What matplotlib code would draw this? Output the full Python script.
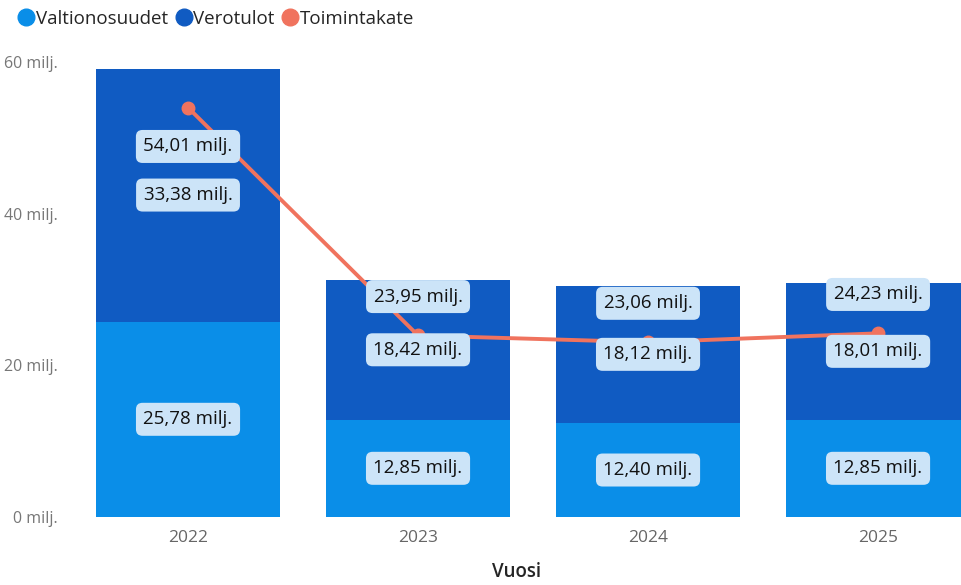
import matplotlib.pyplot as plt
from matplotlib.lines import Line2D
import numpy as np

plt.rcParams['font.family'] = ['Open Sans', 'DejaVu Sans']

vuodet = ['2022', '2023', '2024', '2025']
valtionosuudet = [25.78, 12.85, 12.40, 12.85]
verotulot = [33.38, 18.42, 18.12, 18.01]
toimintakate = [54.01, 23.95, 23.06, 24.23]

c_valt = '#0A8EE8'
c_vero = '#105BC2'
c_toim = '#F0735E'


def fmt(v):
    return f'{v:.2f}'.replace('.', ',') + ' milj.'


fig = plt.figure(figsize=(9.62, 5.85), dpi=100)
ax = fig.add_axes([0.0759, 0.1162, 0.9241, 0.7905])

x = np.arange(len(vuodet))
ax.bar(x, valtionosuudet, width=0.8, color=c_valt)
ax.bar(x, verotulot, width=0.8, bottom=valtionosuudet, color=c_vero)
ax.plot(x, toimintakate, color=c_toim, linewidth=2.8, marker='o', markersize=9, zorder=3)

box = dict(boxstyle='round,pad=0.4,rounding_size=0.35', fc='#CCE4F8', ec='none')
fs = 13.5
for i in range(len(vuodet)):
    ax.text(x[i], valtionosuudet[i] / 2, fmt(valtionosuudet[i]), ha='center',
            va='center', fontsize=fs, color='#111111', bbox=box, zorder=4)
    ax.text(x[i], valtionosuudet[i] + verotulot[i] / 2, fmt(verotulot[i]),
            ha='center', va='center', fontsize=fs, color='#111111', bbox=box, zorder=4)
    dy = -28 if i == 0 else 28
    ax.annotate(fmt(toimintakate[i]), (x[i], toimintakate[i]), xytext=(0, dy),
                textcoords='offset points', ha='center', va='center', fontsize=fs,
                color='#111111', bbox=box, zorder=4)

ax.set_xlim(-0.5, 3.365)
ax.set_ylim(0, 61)
ax.set_xticks(x)
ax.set_xticklabels(vuodet)
ax.set_yticks([0, 20, 40, 60])
ax.set_yticklabels(['0 milj.', '20 milj.', '40 milj.', '60 milj.'])
ax.tick_params(length=0, labelcolor='#666666')
ax.tick_params(axis='y', pad=11, labelsize=11.5, labelcolor='#777777')
ax.tick_params(axis='x', pad=9, labelsize=12.5)
for s in ax.spines.values():
    s.set_visible(False)
fig.text(0.537, 1 - 572 / 585, 'Vuosi', ha='center', va='center', fontsize=13.5,
         fontweight='semibold', color='#252525')

handles = [Line2D([], [], ls='none', marker='o', markersize=12, color=c)
           for c in (c_valt, c_vero, c_toim)]
fig.legend(handles, ['Valtionosuudet', 'Verotulot', 'Toimintakate'],
           loc='upper left', bbox_to_anchor=(0.003, 1.012), ncol=3, frameon=False,
           fontsize=13.5, handlelength=0.7, handletextpad=0.15, columnspacing=0.5,
           labelcolor='#252525')

fig.savefig('out.png', dpi=100)
